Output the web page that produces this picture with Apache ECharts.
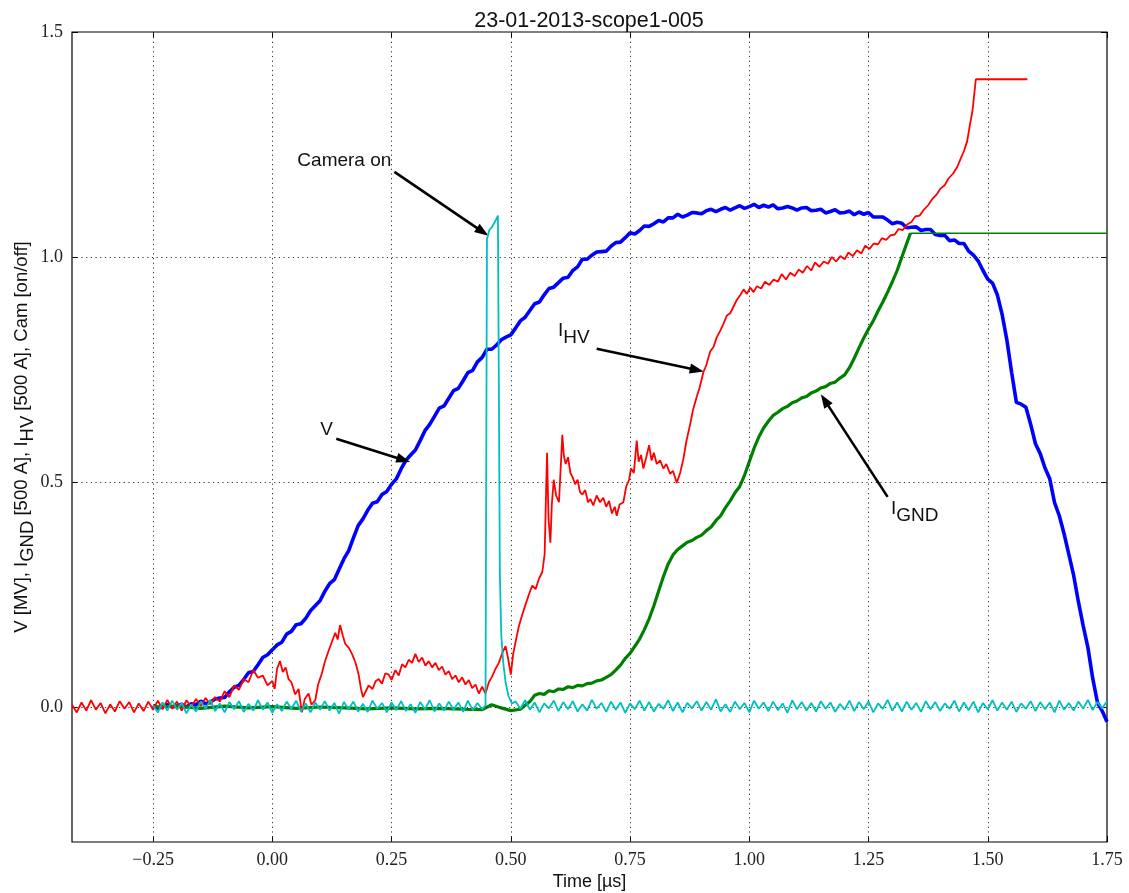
<!DOCTYPE html>
<html><head><meta charset="utf-8">
<script src="https://cdn.jsdelivr.net/npm/echarts@6/dist/echarts.min.js"></script>
<style>html,body{margin:0;padding:0;background:#fff}#c{width:1129px;height:893px}</style>
</head><body><div id="c"></div><script>
const titleText = '23-01-2013-scope1-005';
const xTicks = [-0.25, 0, 0.25, 0.5, 0.75, 1.0, 1.25, 1.5, 1.75];
const yTicks = [0, 0.5, 1.0, 1.5];
const xGrid = [-0.25, 0, 0.25, 0.5, 0.75, 1.0, 1.25, 1.5];
const yGrid = [0, 0.5, 1.0];

// V [MV]
const vData = [[-0.25,0.004],[-0.24,-0.003],[-0.23,0.001],[-0.22,0.006],[-0.21,0.000],[-0.20,0.002],[-0.19,0.006],[-0.18,0.000],[-0.17,0.007],[-0.16,0.005],[-0.15,0.013],[-0.14,0.007],[-0.13,0.011],[-0.12,0.018],[-0.11,0.020],[-0.10,0.021],[-0.09,0.034],[-0.08,0.044],[-0.07,0.048],[-0.06,0.061],[-0.05,0.076],[-0.04,0.079],[-0.03,0.094],[-0.02,0.110],[-0.01,0.116],[0.00,0.127],[0.01,0.138],[0.02,0.144],[0.03,0.162],[0.04,0.168],[0.05,0.183],[0.06,0.185],[0.07,0.197],[0.08,0.214],[0.09,0.225],[0.10,0.236],[0.11,0.257],[0.12,0.274],[0.13,0.283],[0.14,0.306],[0.15,0.329],[0.16,0.347],[0.17,0.376],[0.18,0.403],[0.19,0.418],[0.20,0.437],[0.21,0.453],[0.22,0.456],[0.23,0.472],[0.24,0.479],[0.25,0.495],[0.26,0.507],[0.27,0.529],[0.28,0.548],[0.29,0.560],[0.30,0.571],[0.31,0.592],[0.32,0.614],[0.33,0.628],[0.34,0.646],[0.35,0.664],[0.36,0.669],[0.37,0.686],[0.38,0.703],[0.39,0.708],[0.40,0.725],[0.41,0.743],[0.42,0.748],[0.43,0.767],[0.44,0.777],[0.45,0.795],[0.46,0.795],[0.47,0.804],[0.48,0.816],[0.49,0.822],[0.50,0.827],[0.51,0.842],[0.52,0.858],[0.53,0.866],[0.54,0.881],[0.55,0.896],[0.56,0.900],[0.57,0.916],[0.58,0.930],[0.59,0.933],[0.60,0.943],[0.61,0.953],[0.62,0.955],[0.63,0.970],[0.64,0.978],[0.65,0.995],[0.66,0.995],[0.67,1.004],[0.68,1.011],[0.69,1.012],[0.70,1.013],[0.71,1.024],[0.72,1.032],[0.73,1.033],[0.74,1.043],[0.75,1.054],[0.76,1.051],[0.77,1.059],[0.78,1.069],[0.79,1.068],[0.80,1.074],[0.81,1.081],[0.82,1.078],[0.83,1.087],[0.84,1.087],[0.85,1.095],[0.86,1.089],[0.87,1.093],[0.88,1.099],[0.89,1.098],[0.90,1.096],[0.91,1.103],[0.92,1.106],[0.93,1.101],[0.94,1.106],[0.95,1.110],[0.96,1.104],[0.97,1.109],[0.98,1.114],[0.99,1.108],[1.00,1.112],[1.01,1.117],[1.02,1.110],[1.03,1.115],[1.04,1.111],[1.05,1.116],[1.06,1.107],[1.07,1.109],[1.08,1.112],[1.09,1.109],[1.10,1.104],[1.11,1.109],[1.12,1.110],[1.13,1.103],[1.14,1.104],[1.15,1.106],[1.16,1.098],[1.17,1.101],[1.18,1.105],[1.19,1.098],[1.20,1.099],[1.21,1.102],[1.22,1.094],[1.23,1.100],[1.24,1.095],[1.25,1.099],[1.26,1.089],[1.27,1.089],[1.28,1.089],[1.29,1.082],[1.30,1.074],[1.31,1.077],[1.32,1.075],[1.33,1.065],[1.34,1.066],[1.35,1.067],[1.36,1.059],[1.37,1.061],[1.38,1.061],[1.39,1.050],[1.40,1.048],[1.41,1.048],[1.42,1.036],[1.43,1.038],[1.44,1.030],[1.45,1.030],[1.46,1.013],[1.47,1.004],[1.48,0.991],[1.49,0.970],[1.50,0.951],[1.51,0.942],[1.52,0.916],[1.53,0.873],[1.54,0.816],[1.55,0.744],[1.56,0.677],[1.57,0.673],[1.58,0.666],[1.59,0.628],[1.60,0.585],[1.61,0.563],[1.62,0.531],[1.63,0.507],[1.64,0.454],[1.65,0.425],[1.66,0.385],[1.67,0.339],[1.68,0.293],[1.69,0.234],[1.70,0.181],[1.71,0.132],[1.72,0.064],[1.73,0.010],[1.74,-0.009],[1.75,-0.033]];

// I_GND [500 A] (noisy part)
const gndData = [[-0.25,0.0],[-0.2,0.002],[-0.15,-0.003],[-0.1,0.002],[-0.05,-0.002],[0.0,0.001],[0.05,-0.003],[0.1,0.0],[0.15,-0.002],[0.2,-0.004],[0.25,-0.002],[0.3,-0.004],[0.35,-0.003],[0.4,-0.005],[0.44,-0.006],[0.46,0.005],[0.48,-0.002],[0.5,-0.008],[0.52,-0.005],[0.54,0.012],[0.55,0.026],[0.56,0.030],[0.57,0.028],[0.58,0.036],[0.59,0.034],[0.6,0.040],[0.61,0.039],[0.62,0.045],[0.63,0.043],[0.64,0.048],[0.65,0.047],[0.66,0.052],[0.67,0.053],[0.68,0.058],[0.69,0.060],[0.70,0.066],[0.71,0.072],[0.72,0.082],[0.73,0.093],[0.74,0.108],[0.75,0.119],[0.76,0.135],[0.77,0.151],[0.78,0.172],[0.79,0.196],[0.80,0.225],[0.81,0.258],[0.82,0.290],[0.83,0.318],[0.84,0.338],[0.85,0.350],[0.86,0.358],[0.87,0.366],[0.88,0.370],[0.89,0.377],[0.90,0.382],[0.91,0.392],[0.92,0.400],[0.93,0.414],[0.94,0.425],[0.95,0.443],[0.96,0.458],[0.97,0.476],[0.98,0.490],[0.99,0.515],[1.0,0.545],[1.01,0.575],[1.02,0.600],[1.03,0.620],[1.04,0.635],[1.05,0.648],[1.06,0.655],[1.07,0.663],[1.08,0.668],[1.09,0.676],[1.10,0.680],[1.11,0.687],[1.12,0.690],[1.13,0.698],[1.14,0.702],[1.15,0.709],[1.16,0.712],[1.17,0.719],[1.18,0.722],[1.19,0.731],[1.2,0.738],[1.21,0.754],[1.22,0.775],[1.23,0.798],[1.24,0.820],[1.25,0.840],[1.26,0.858],[1.27,0.880],[1.28,0.900],[1.29,0.922],[1.30,0.945],[1.31,0.970],[1.32,1.000],[1.33,1.030],[1.338,1.053]];
// I_GND saturated part
const gndFlat = [[1.338,1.053],[1.75,1.053]];

// I_HV [500 A]
const hvData = [[-0.42,0.005],[-0.41,-0.012],[-0.40,0.010],[-0.39,-0.008],[-0.38,0.015],[-0.37,-0.006],[-0.36,0.009],[-0.35,-0.014],[-0.34,0.006],[-0.33,-0.010],[-0.32,0.013],[-0.31,-0.004],[-0.30,0.011],[-0.29,-0.012],[-0.28,0.008],[-0.27,-0.009],[-0.26,0.012],[-0.25,-0.006],[-0.24,0.014],[-0.23,-0.005],[-0.22,0.016],[-0.21,-0.004],[-0.20,0.012],[-0.19,-0.008],[-0.18,0.015],[-0.17,0.000],[-0.16,0.018],[-0.15,0.002],[-0.14,0.020],[-0.13,0.006],[-0.12,0.022],[-0.11,0.012],[-0.10,0.035],[-0.09,0.022],[-0.08,0.048],[-0.07,0.038],[-0.06,0.062],[-0.05,0.055],[-0.04,0.082],[-0.03,0.065],[-0.02,0.070],[-0.01,0.048],[0.00,0.058],[0.005,0.040],[0.01,0.085],[0.016,0.102],[0.022,0.078],[0.028,0.088],[0.034,0.062],[0.04,0.055],[0.048,0.028],[0.055,0.040],[0.062,-0.012],[0.068,0.018],[0.076,0.030],[0.082,0.005],[0.09,0.015],[0.096,0.050],[0.104,0.075],[0.11,0.100],[0.118,0.125],[0.125,0.145],[0.132,0.165],[0.137,0.150],[0.142,0.182],[0.148,0.158],[0.153,0.140],[0.16,0.132],[0.167,0.118],[0.174,0.100],[0.181,0.072],[0.186,0.040],[0.19,0.022],[0.196,0.035],[0.202,0.048],[0.21,0.040],[0.217,0.058],[0.223,0.062],[0.23,0.052],[0.237,0.075],[0.244,0.072],[0.25,0.060],[0.258,0.082],[0.265,0.070],[0.272,0.095],[0.279,0.088],[0.286,0.105],[0.293,0.098],[0.30,0.118],[0.307,0.100],[0.314,0.110],[0.321,0.092],[0.328,0.102],[0.335,0.088],[0.342,0.098],[0.349,0.082],[0.356,0.090],[0.363,0.072],[0.37,0.080],[0.377,0.062],[0.384,0.070],[0.391,0.055],[0.398,0.066],[0.405,0.050],[0.412,0.060],[0.419,0.042],[0.426,0.050],[0.433,0.030],[0.44,0.045],[0.447,0.030],[0.454,0.055],[0.461,0.068],[0.468,0.085],[0.475,0.098],[0.482,0.120],[0.489,0.135],[0.494,0.110],[0.50,0.072],[0.505,0.118],[0.511,0.150],[0.517,0.180],[0.524,0.205],[0.531,0.228],[0.538,0.250],[0.545,0.270],[0.552,0.262],[0.559,0.285],[0.566,0.300],[0.571,0.340],[0.574,0.480],[0.576,0.565],[0.579,0.420],[0.583,0.365],[0.586,0.450],[0.59,0.505],[0.595,0.470],[0.601,0.455],[0.605,0.540],[0.608,0.605],[0.611,0.560],[0.615,0.540],[0.62,0.555],[0.625,0.520],[0.629,0.512],[0.635,0.495],[0.64,0.505],[0.645,0.478],[0.65,0.472],[0.656,0.482],[0.662,0.455],[0.667,0.462],[0.673,0.448],[0.68,0.470],[0.687,0.455],[0.694,0.465],[0.70,0.445],[0.706,0.458],[0.712,0.430],[0.718,0.445],[0.722,0.425],[0.728,0.450],[0.736,0.455],[0.742,0.490],[0.748,0.505],[0.752,0.530],[0.758,0.520],[0.764,0.592],[0.768,0.545],[0.773,0.560],[0.778,0.530],[0.784,0.555],[0.79,0.582],[0.795,0.548],[0.80,0.565],[0.806,0.540],[0.813,0.548],[0.82,0.530],[0.826,0.540],[0.834,0.518],[0.84,0.525],[0.848,0.498],[0.855,0.520],[0.862,0.552],[0.868,0.590],[0.876,0.628],[0.882,0.660],[0.89,0.690],[0.896,0.710],[0.904,0.745],[0.91,0.760],[0.918,0.790],[0.925,0.800],[0.932,0.822],[0.94,0.838],[0.946,0.852],[0.953,0.870],[0.96,0.875],[0.967,0.890],[0.974,0.905],[0.981,0.915],[0.988,0.928],[0.995,0.918],[1.002,0.932],[1.009,0.922],[1.016,0.935],[1.025,0.930],[1.033,0.945],[1.042,0.938],[1.051,0.950],[1.06,0.945],[1.068,0.962],[1.077,0.950],[1.086,0.965],[1.095,0.958],[1.104,0.972],[1.112,0.965],[1.121,0.980],[1.13,0.970],[1.138,0.988],[1.147,0.978],[1.156,0.990],[1.165,0.985],[1.173,1.000],[1.182,0.990],[1.191,1.002],[1.2,0.995],[1.208,1.010],[1.217,1.002],[1.226,1.015],[1.235,1.008],[1.243,1.025],[1.252,1.018],[1.261,1.030],[1.27,1.028],[1.278,1.042],[1.287,1.038],[1.296,1.048],[1.305,1.050],[1.313,1.062],[1.322,1.060],[1.331,1.072],[1.34,1.078],[1.348,1.090],[1.357,1.092],[1.366,1.105],[1.375,1.115],[1.383,1.128],[1.392,1.138],[1.401,1.152],[1.41,1.160],[1.418,1.175],[1.427,1.185],[1.436,1.200],[1.443,1.218],[1.45,1.235],[1.457,1.258],[1.462,1.290],[1.468,1.325],[1.472,1.365],[1.475,1.395],[1.583,1.395]];

// Cam [on/off]
const camData = [[-0.25,0.004],[-0.24,-0.012],[-0.23,0.010],[-0.22,-0.008],[-0.21,0.014],[-0.20,-0.006],[-0.19,0.009],[-0.18,-0.014],[-0.17,0.006],[-0.16,-0.010],[-0.15,0.012],[-0.14,-0.004],[-0.13,0.016],[-0.12,-0.009],[-0.11,0.008],[-0.10,-0.012],[-0.09,0.011],[-0.08,-0.005],[-0.07,0.013],[-0.06,-0.011],[-0.05,0.007],[-0.04,-0.008],[-0.03,0.015],[-0.02,-0.006],[-0.01,0.010],[0.00,-0.013],[0.01,0.006],[0.02,-0.009],[0.03,0.012],[0.04,-0.004],[0.05,0.014],[0.06,-0.010],[0.07,0.008],[0.08,-0.012],[0.09,0.010],[0.10,-0.006],[0.11,0.013],[0.12,-0.008],[0.13,0.009],[0.14,-0.015],[0.15,0.011],[0.16,-0.005],[0.17,0.012],[0.18,-0.010],[0.19,0.007],[0.20,-0.011],[0.21,0.014],[0.22,-0.004],[0.23,0.009],[0.24,-0.012],[0.25,0.010],[0.26,-0.007],[0.27,0.013],[0.28,-0.009],[0.29,0.006],[0.30,-0.013],[0.31,0.011],[0.32,-0.005],[0.33,0.015],[0.34,-0.010],[0.35,0.008],[0.36,-0.008],[0.37,0.012],[0.38,-0.006],[0.39,0.010],[0.40,-0.011],[0.41,0.014],[0.42,-0.007],[0.43,0.009],[0.44,-0.005],[0.447,0.004],[0.450,1.040],[0.455,1.060],[0.46,1.066],[0.465,1.075],[0.47,1.085],[0.473,1.092],[0.475,0.700],[0.477,0.300],[0.480,0.160],[0.484,0.100],[0.489,0.055],[0.495,0.025],[0.502,0.008],[0.51,0.012],[0.52,-0.004],[0.53,0.015],[0.54,-0.006],[0.55,0.010],[0.56,-0.012],[0.57,0.008],[0.58,-0.003],[0.59,0.014],[0.60,-0.009],[0.61,0.011],[0.62,-0.005],[0.63,0.013],[0.64,-0.010],[0.65,0.006],[0.66,-0.008],[0.67,0.016],[0.68,-0.004],[0.69,0.009],[0.70,-0.011],[0.71,0.012],[0.72,-0.006],[0.73,0.010],[0.74,-0.013],[0.75,0.008],[0.76,-0.005],[0.77,0.014],[0.78,-0.008],[0.79,0.011],[0.80,-0.010],[0.81,0.007],[0.82,-0.004],[0.83,0.015],[0.84,-0.009],[0.85,0.010],[0.86,-0.012],[0.87,0.009],[0.88,-0.003],[0.89,0.013],[0.90,-0.008],[0.91,0.011],[0.92,-0.006],[0.93,0.017],[0.94,-0.010],[0.95,0.006],[0.96,-0.011],[0.97,0.012],[0.98,-0.005],[0.99,0.009],[1.00,-0.012],[1.01,0.014],[1.02,-0.004],[1.03,0.010],[1.04,-0.009],[1.05,0.012],[1.06,-0.007],[1.07,0.008],[1.08,-0.013],[1.09,0.015],[1.10,-0.005],[1.11,0.011],[1.12,-0.008],[1.13,0.009],[1.14,-0.010],[1.15,0.013],[1.16,-0.004],[1.17,0.010],[1.18,-0.011],[1.19,0.007],[1.20,-0.006],[1.21,0.014],[1.22,-0.009],[1.23,0.011],[1.24,-0.005],[1.25,0.012],[1.26,-0.012],[1.27,0.008],[1.28,-0.004],[1.29,0.016],[1.30,-0.008],[1.31,0.010],[1.32,-0.010],[1.33,0.012],[1.34,-0.006],[1.35,0.009],[1.36,-0.011],[1.37,0.013],[1.38,-0.005],[1.39,0.011],[1.40,-0.009],[1.41,0.008],[1.42,-0.004],[1.43,0.014],[1.44,-0.010],[1.45,0.010],[1.46,-0.007],[1.47,0.012],[1.48,-0.012],[1.49,0.009],[1.50,-0.005],[1.51,0.015],[1.52,-0.008],[1.53,0.010],[1.54,-0.006],[1.55,0.012],[1.56,-0.011],[1.57,0.008],[1.58,-0.004],[1.59,0.013],[1.60,-0.009],[1.61,0.011],[1.62,-0.005],[1.63,0.010],[1.64,-0.012],[1.65,0.014],[1.66,-0.006],[1.67,0.009],[1.68,-0.008],[1.69,0.012],[1.70,-0.004],[1.71,0.016],[1.72,-0.007],[1.73,0.011],[1.74,-0.003],[1.75,0.013]];

// annotations: label text, label centre [t, v], arrow start, arrow tip
const annoTexts = ['Camera on', 'V', '{i|I}{s|HV}', '{i|I}{s|GND}'];
const annoLabelPos = [[0.151, 1.213], [0.114, 0.616], [0.632, 0.820], [1.347, 0.424]];
const annoArrowFrom = [[0.256, 1.189], [0.134, 0.596], [0.680, 0.796], [1.290, 0.467]];
const annoArrowTo = [[0.441, 1.056], [0.275, 0.549], [0.890, 0.749], [1.158, 0.682]];

const SANS = '"Liberation Sans", Arial, sans-serif';
const SERIF = '"Liberation Serif", "DejaVu Serif", serif';
const fmtX = v => (v < 0 ? '\u2212' : '') + Math.abs(v).toFixed(2);
const fmtY = v => (v < 0 ? '\u2212' : '') + Math.abs(v).toFixed(1);

const subRich = {
  i: {fontSize: 19, fontFamily: SANS, color: '#111', lineHeight: 20, verticalAlign: 'top'},
  s: {fontSize: 19, fontFamily: SANS, color: '#111', lineHeight: 34, verticalAlign: 'middle'}
};

const tickStyle = {show: true, inside: true, length: 6, lineStyle: {color: '#000', width: 1}};

const chart = echarts.init(document.getElementById('c'), null, {renderer: 'canvas'});
chart.setOption({
  animation: false,
  backgroundColor: '#fff',
  title: {
    text: titleText, left: 584, top: 5, textAlign: 'center',
    textStyle: {fontFamily: SANS, fontSize: 21.5, fontWeight: 'normal', color: '#111'}
  },
  grid: {left: 72, right: 22, top: 32, bottom: 51, show: true, borderColor: '#000', borderWidth: 1.2, backgroundColor: 'transparent', outerBoundsMode: 'none'},
  xAxis: [{
    type: 'value', min: -0.42, max: 1.75, position: 'bottom',
    name: 'Time [µs]', nameLocation: 'middle', nameGap: 31, nameMoveOverlap: false,
    nameTextStyle: {fontFamily: SANS, fontSize: 18, color: '#111'},
    axisLine: {show: false, onZero: false}, splitLine: {show: false},
    axisTick: Object.assign({customValues: xTicks}, tickStyle),
    axisLabel: {show: true, customValues: xTicks, formatter: fmtX, margin: 9, fontFamily: SERIF, fontSize: 18, color: '#222', showMinLabel: true, showMaxLabel: true}
  }, {
    type: 'value', min: -0.42, max: 1.75, position: 'top',
    axisLine: {show: false, onZero: false}, splitLine: {show: false},
    axisTick: Object.assign({customValues: xTicks}, tickStyle),
    axisLabel: {show: false}
  }],
  yAxis: [{
    type: 'value', min: -0.3, max: 1.5, position: 'left',
    name: '{n|V [MV], I}{s|GND}{n| [500 A], I}{s|HV}{n| [500 A], Cam [on/off]}',
    nameLocation: 'middle', nameGap: 28, nameRotate: 90, nameMoveOverlap: false,
    nameTextStyle: {
      fontFamily: SANS, fontSize: 18, color: '#111',
      rich: {
        n: {fontFamily: SANS, fontSize: 18.5, color: '#111', lineHeight: 20, verticalAlign: 'top'},
        s: {fontFamily: SANS, fontSize: 18.5, color: '#111', lineHeight: 32, verticalAlign: 'middle'}
      }
    },
    axisLine: {show: false, onZero: false}, splitLine: {show: false},
    axisTick: Object.assign({customValues: yTicks}, tickStyle),
    axisLabel: {show: true, customValues: yTicks, formatter: fmtY, margin: 9, fontFamily: SERIF, fontSize: 18, color: '#222', showMinLabel: true, showMaxLabel: true}
  }, {
    type: 'value', min: -0.3, max: 1.5, position: 'right',
    axisLine: {show: false, onZero: false}, splitLine: {show: false},
    axisTick: Object.assign({customValues: yTicks}, tickStyle),
    axisLabel: {show: false}
  }],
  series: [
    {
      name: 'grid', type: 'line', data: [], z: 1, silent: true,
      markLine: {
        silent: true, symbol: ['none', 'none'], label: {show: false}, animation: false,
        lineStyle: {color: '#333', width: 1, type: [1.2, 3.5]},
        emphasis: {disabled: true},
        data: xGrid.map(v => ({xAxis: v})).concat(yGrid.map(v => ({yAxis: v})))
      }
    },
    {name: 'V', type: 'line', data: vData, showSymbol: false, z: 3, lineStyle: {color: '#0000ff', width: 3.6}, itemStyle: {color: '#0000ff'}},
    {name: 'I_GND', type: 'line', data: gndData, showSymbol: false, z: 4, lineStyle: {color: '#008000', width: 3.2}, itemStyle: {color: '#008000'}},
    {name: 'I_GND', type: 'line', data: gndFlat, showSymbol: false, z: 4, lineStyle: {color: '#008000', width: 1.5}, itemStyle: {color: '#008000'}},
    {name: 'I_HV', type: 'line', data: hvData, showSymbol: false, z: 5, lineStyle: {color: '#ff0000', width: 1.8}, itemStyle: {color: '#ff0000'}},
    {name: 'Cam', type: 'line', data: camData, showSymbol: false, z: 6, lineStyle: {color: '#00bfbf', width: 1.8}, itemStyle: {color: '#00bfbf'}},
    {
      name: 'annotations', type: 'line', data: [], z: 10, silent: true,
      markLine: {
        silent: true, symbol: ['none', 'triangle'], symbolSize: [10, 14], label: {show: false}, animation: false,
        lineStyle: {color: '#000', width: 2.6, type: 'solid'},
        data: annoArrowFrom.map((p, i) => [{coord: p}, {coord: annoArrowTo[i]}])
      },
      markPoint: {
        silent: true, symbol: 'circle', symbolSize: 0, animation: false,
        label: {show: true, position: 'inside', fontFamily: SANS, fontSize: 19, color: '#111', rich: subRich},
        data: annoLabelPos.map((p, i) => ({coord: p, value: annoTexts[i], label: {formatter: annoTexts[i]}}))
      }
    }
  ]
});
</script></body></html>
